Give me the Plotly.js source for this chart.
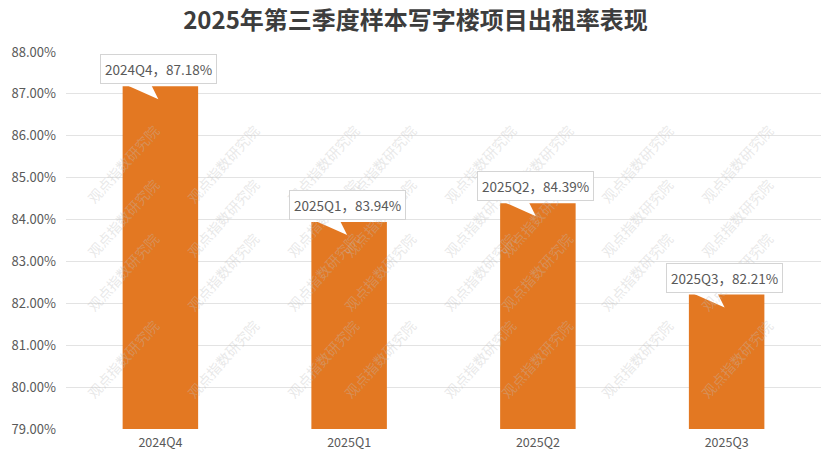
<!DOCTYPE html>
<html>
<head>
<meta charset="utf-8">
<script src="https://cdn.plot.ly/plotly-3.0.1.min.js"></script>
<style>html,body{margin:0;padding:0;background:#fff;}#chart{width:831px;height:460px;}</style>
</head>
<body>
<div id="chart"></div>
<script>
const quarters = ["2024Q4", "2025Q1", "2025Q2", "2025Q3"];
const occupancy = [87.18, 83.94, 84.39, 82.21];
const chartTitle = "2025年第三季度样本写字楼项目出租率表现";
const watermarkText = "观点指数研究院";

const FONT = '"Noto Sans CJK SC", "Noto Sans", sans-serif';
const barColor = '#E37822';

const trace = {
  type: 'bar',
  x: quarters,
  y: occupancy,
  width: 0.4,
  marker: {color: barColor},
  hoverinfo: 'none'
};

const annotations = [];

// faint diagonal watermarks (page decoration, regular lattice)
const wmRowsY = [118, 218, 318, 405];
const wmColsX = [80, 180, 280, 380, 480, 580, 680, 780];
wmRowsY.forEach(py => wmColsX.forEach(px => {
  annotations.push({
    xref: 'paper', yref: 'paper',
    x: (px - 66) / 755, y: 1 - (py - 52) / 377,
    text: watermarkText, showarrow: false, textangle: -48,
    font: {family: FONT, size: 14, color: 'rgba(190,190,190,0.35)'}
  });
}));

quarters.forEach((q, i) => annotations.push({
  x: q, y: occupancy[i], xref: 'x', yref: 'y',
  text: q + '，' + occupancy[i].toFixed(2) + '%',
  showarrow: false,
  xanchor: 'center', yanchor: 'bottom',
  xshift: -2, yshift: 2,
  bgcolor: '#ffffff', bordercolor: '#d4d4d4', borderwidth: 1, borderpad: 4,
  font: {family: FONT, size: 13.5, color: '#595959'}
}));

const shapes = quarters.map((q, i) => ({
  type: 'path', xref: 'x', yref: 'y',
  xsizemode: 'pixel', ysizemode: 'pixel',
  xanchor: i, yanchor: occupancy[i],
  path: 'M-38,3 L-10,3 L-2,-13 Z',
  fillcolor: '#ffffff', line: {width: 0}, layer: 'above'
}));

const layout = {
  width: 831, height: 460,
  margin: {l: 66, r: 10, t: 52, b: 31},
  paper_bgcolor: '#ffffff', plot_bgcolor: '#ffffff',
  title: {text: chartTitle, x: 0.5, xanchor: 'center', y: 0.955, yanchor: 'middle',
          font: {family: FONT, size: 24, color: '#3d3d3d', weight: 'bold'}},
  xaxis: {type: 'category', showgrid: false, zeroline: false, showline: false,
          ticklabelstandoff: 4,
          tickfont: {family: FONT, size: 12.5, color: '#595959'}},
  yaxis: {range: [79, 88], dtick: 1, tick0: 79, tickformat: '.2f', ticksuffix: '%',
          gridcolor: '#e3e3e3', gridwidth: 1, zeroline: false, showline: false,
          ticklabelstandoff: 9,
          tickfont: {family: FONT, size: 13, color: '#595959'}},
  bargap: 0.6,
  showlegend: false,
  annotations: annotations,
  shapes: shapes
};

Plotly.newPlot('chart', [trace], layout, {displayModeBar: false, staticPlot: true});
</script>
</body>
</html>
